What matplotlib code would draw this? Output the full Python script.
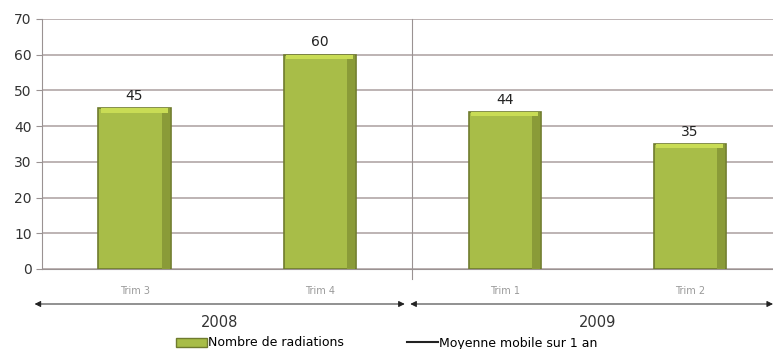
import numpy as np
import matplotlib.pyplot as plt
from matplotlib.lines import Line2D
from matplotlib.patches import Patch

# data
quarters = ['Trim 3', 'Trim 4', 'Trim 1', 'Trim 2']
years = ['2008', '2009']
radiations = [45, 60, 44, 35]

fig = plt.figure(figsize=(7.73, 3.49), dpi=100)
ax = fig.add_axes([42 / 773, 1 - 269 / 349, 1 - 42 / 773, (269 - 19) / 349])

x = np.arange(len(quarters))
ax.bar(x, radiations, width=0.39, color='#a8bd48', edgecolor='#6f7b2e',
       linewidth=1.2, zorder=3)
# darker shading on the right side and lighter bevel on top
ax.bar(x + 0.17, radiations, width=0.04, color='#8a9b38', linewidth=0, zorder=4)
ax.bar(x, [1.2] * len(x), bottom=np.array(radiations) - 1.2, width=0.36,
       color='#c9dc55', linewidth=0, zorder=4)

for xi, v in zip(x, radiations):
    ax.text(xi, v + 1.5, str(v), ha='center', va='bottom', fontsize=10, color='#222222')

ax.set_xlim(-0.5, 3.45)
ax.set_ylim(0, 70)
ax.set_yticks(range(0, 71, 10))
ax.yaxis.grid(True, color='#b8aeae', linewidth=1.3, zorder=0)
ax.set_xticks([])
for s in ['top', 'right']:
    ax.spines[s].set_visible(False)
ax.spines['left'].set_color('#9a9292')
ax.spines['bottom'].set_color('#9a9292')
ax.tick_params(axis='y', colors='#9a9292', labelcolor='#333333', labelsize=10, length=4)
ax.axvline(1.5, ymin=-0.04, ymax=1, color='#9a9292', linewidth=0.8, clip_on=False)

trans = ax.get_xaxis_transform()
for xi, q in zip(x, quarters):
    ax.text(xi, -0.09, q, transform=trans, ha='center', va='center',
            fontsize=7, color='#9a9a9a')

# year arrows
spans = [(-0.54, 1.46), (1.49, 3.45)]
for (a, b), yr in zip(spans, years):
    ax.annotate('', xy=(a, -0.14), xytext=(b, -0.14), xycoords=trans, textcoords=trans,
                arrowprops=dict(arrowstyle='<|-|>', color='#222222', lw=0.7,
                                mutation_scale=9, shrinkA=0, shrinkB=0),
                annotation_clip=False)
    ax.text((a + b) / 2 if b < 3 else 2.5, -0.215, yr, transform=trans, ha='center',
            va='center', fontsize=10.5, color='#333333')

handles = [Patch(facecolor='#a8bd48', edgecolor='#6f7b2e', label='Nombre de radiations'),
           Line2D([0], [0], color='#222222', lw=1.5, label='Moyenne mobile sur 1 an')]
fig.legend(handles=handles, loc='center', bbox_to_anchor=(0.5, 1 - 343 / 349),
           ncol=2, frameon=False, fontsize=9, columnspacing=5, handlelength=2.5,
           handletextpad=0.1, borderaxespad=0, borderpad=0)

plt.savefig('out.png', dpi=100)
